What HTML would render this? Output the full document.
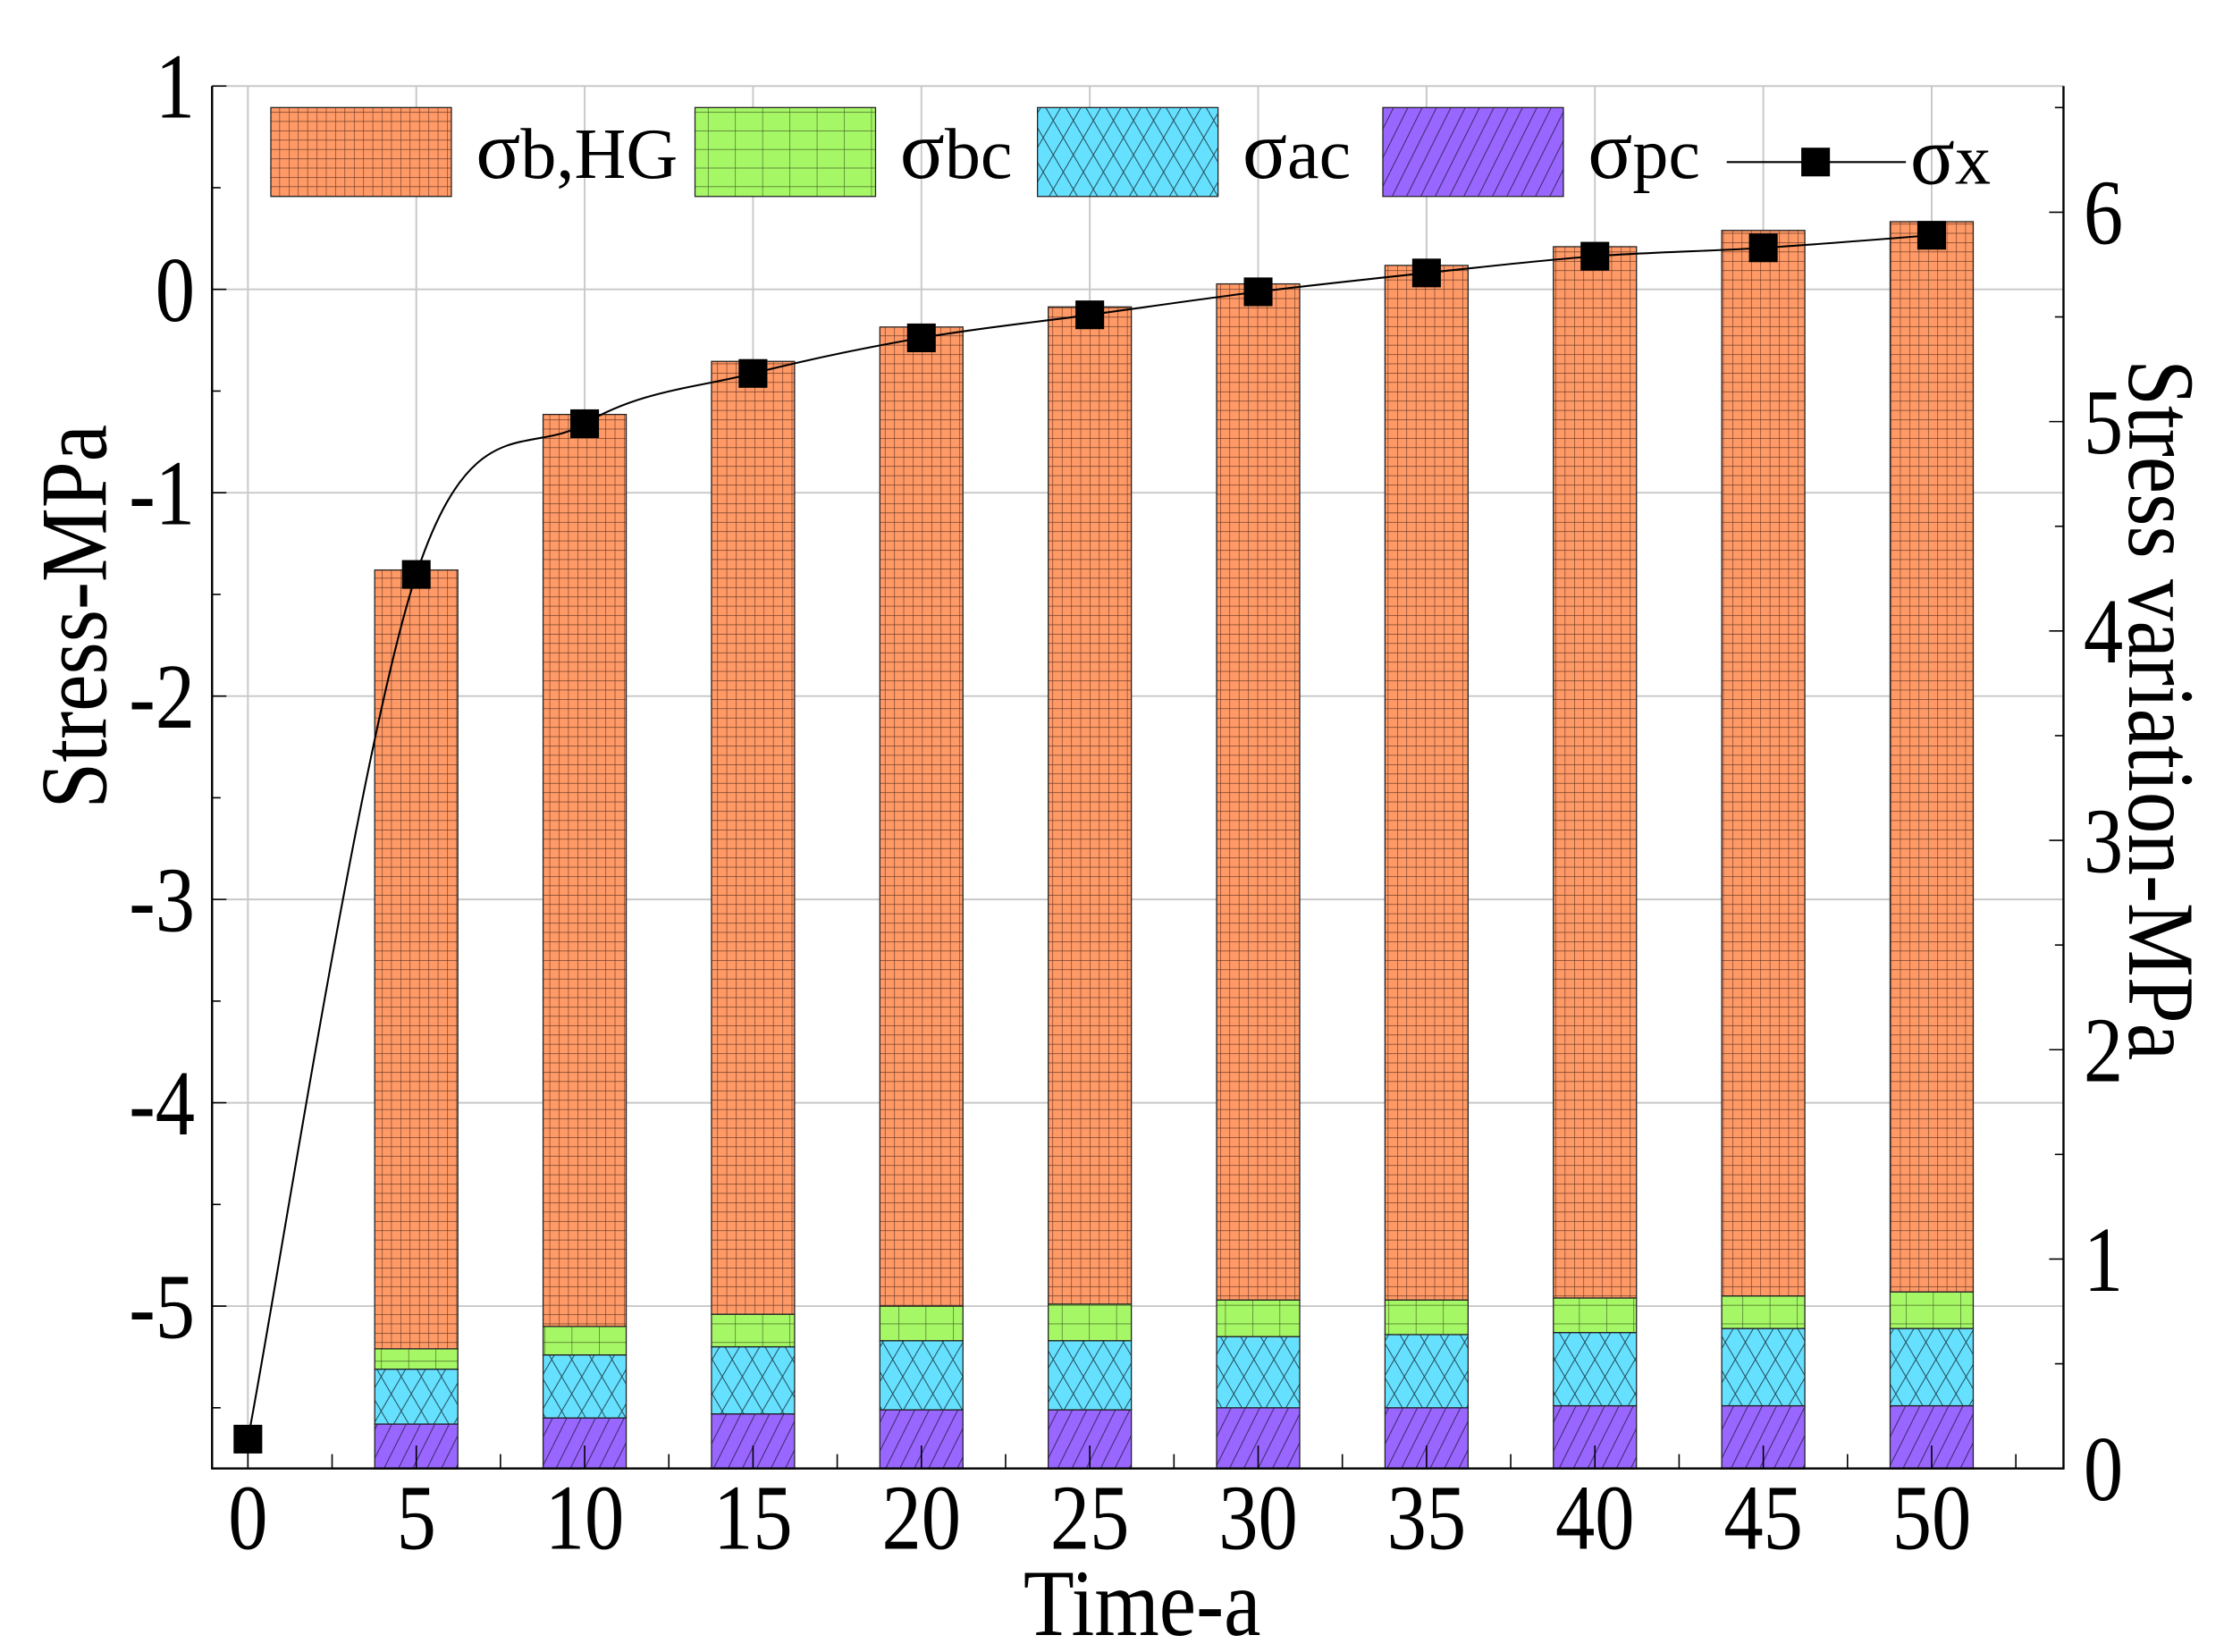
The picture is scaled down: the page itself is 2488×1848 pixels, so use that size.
<!DOCTYPE html>
<html><head><meta charset="utf-8"><style>html,body{margin:0;padding:0;background:#fff}svg{display:block}</style></head>
<body>
<svg id="chart" width="2488" height="1848" viewBox="0 0 1552 1152" preserveAspectRatio="none" xmlns="http://www.w3.org/2000/svg" font-family="'Liberation Serif', serif">
<defs>
<pattern id="pOr" patternUnits="userSpaceOnUse" width="6.5" height="6.5"><rect width="6.5" height="6.5" fill="#FF9966"/><path d="M0 0H6.5M0 0V6.5" stroke="#5a3020" stroke-width="0.7"/></pattern>
<pattern id="pGr" patternUnits="userSpaceOnUse" width="19" height="13"><rect width="19" height="13" fill="#A6F765"/><path d="M0 0H19M0 0V13" stroke="#355020" stroke-width="0.7"/></pattern>
<pattern id="pCy" patternUnits="userSpaceOnUse" width="14" height="24"><rect width="14" height="24" fill="#66E0FF"/><path d="M0 0L14 24M14 0L0 24" stroke="#204a55" stroke-width="0.6"/></pattern>
<pattern id="pPu" patternUnits="userSpaceOnUse" width="10" height="20"><rect width="10" height="20" fill="#9966FF"/><path d="M0 20L10 0M-5 10L0 0M10 20L15 10" stroke="#3a2660" stroke-width="0.6"/></pattern>
</defs>
<g id="grid"></g>
<g id="bars"></g>
<g id="line"></g>
<g id="axes"></g>
<g id="legend"></g>
</svg>
<script>
const times = [5,10,15,20,25,30,35,40,45,50];
const pc = [0.22,0.25,0.27,0.29,0.29,0.30,0.30,0.31,0.31,0.31];
const ac = [0.27,0.31,0.33,0.34,0.34,0.35,0.36,0.36,0.38,0.38];
const bc = [0.10,0.14,0.16,0.17,0.18,0.18,0.17,0.17,0.16,0.18];
const bHG = [3.83,4.485,4.686,4.815,4.904,4.997,5.088,5.17,5.24,5.263];
const lineT = [0,5,10,15,20,25,30,35,40,45,50];
const sx = [0.14,4.27,4.99,5.23,5.40,5.51,5.62,5.71,5.79,5.83,5.89];
const xTicks = [0,5,10,15,20,25,30,35,40,45,50];
const yTicks = [1,0,-1,-2,-3,-4,-5];
const y2Ticks = [0,1,2,3,4,5,6];

const L=148,R=1440,T=60,B=1024;
const X=t=>173+(t)*(1348-173)/50;
const Y=v=>60+(1-v)*141.8;
const Y2=v=>1024-v*146;
const NS='http://www.w3.org/2000/svg';
function mk(tag,attrs,parent){const e=document.createElementNS(NS,tag);for(const k in attrs)e.setAttribute(k,attrs[k]);parent.appendChild(e);return e;}
const grid=document.getElementById('grid'),bars=document.getElementById('bars'),lineG=document.getElementById('line'),axes=document.getElementById('axes'),leg=document.getElementById('legend');

xTicks.forEach(t=>{const g=mk('line',{x1:X(t),x2:X(t),y1:T,y2:B,stroke:'#c8c8c8','stroke-width':1.2},grid);

});
yTicks.forEach(v=>{const g=mk('line',{x1:L,x2:R,y1:Y(v),y2:Y(v),stroke:'#c8c8c8','stroke-width':1.2},grid);

});

const base=-5.8;
times.forEach((t,i)=>{
  const segs=[[pc[i],'pPu','bar-pc'],[ac[i],'pCy','bar-ac'],[bc[i],'pGr','bar-bc'],[bHG[i],'pOr','bar-bhg']];
  let cum=base;
  segs.forEach(s=>{
    const y0=Y(cum),y1=Y(cum+s[0]);
    const r=mk('rect',{x:X(t)-29,y:y1,width:58,height:y0-y1,fill:'url(#'+s[1]+')',stroke:'#222','stroke-width':0.8},bars);
    
    
    cum+=s[0];
  });
});

const pts=lineT.map((t,i)=>[X(t),Y2(sx[i])]);
let d='M'+pts[0][0]+' '+pts[0][1];
for(let i=0;i<pts.length-1;i++){
  const p0=pts[i-1]||pts[i],p1=pts[i],p2=pts[i+1],p3=pts[i+2]||p2;
  const c1=[p1[0]+(p2[0]-p0[0])/6,p1[1]+(p2[1]-p0[1])/6];
  const c2=[p2[0]-(p3[0]-p1[0])/6,p2[1]-(p3[1]-p1[1])/6];
  d+=` C${c1[0]} ${c1[1]} ${c2[0]} ${c2[1]} ${p2[0]} ${p2[1]}`;
}
const pl=mk('path',{d:d,fill:'none',stroke:'#000','stroke-width':1.3},lineG);


pts.forEach((p,i)=>{const m=mk('rect',{x:p[0]-10,y:p[1]-10,width:20,height:20,fill:'#000'},lineG);

});

const ax=mk('path',{d:`M${L} ${T}V${B}H${R}V${T}`,fill:'none',stroke:'#000','stroke-width':1.5},axes);


for(let v=1;v>=-5.8;v-=0.5){const tk=mk('line',{x1:L,x2:L+(Math.abs(v%1)<0.01?10:6),y1:Y(v),y2:Y(v),stroke:'#000','stroke-width':1},axes);

}
for(let v=0;v<=6.5;v+=0.5){const tk=mk('line',{x1:R,x2:R-(v%1===0?10:6),y1:Y2(v),y2:Y2(v),stroke:'#000','stroke-width':1},axes);

}
for(let t=0;t<=52.5;t+=2.5){const tk=mk('line',{x1:X(t),x2:X(t),y1:B,y2:B-(t%5===0?16:10),stroke:'#000','stroke-width':1},axes);

}
xTicks.forEach(t=>{const e=mk('text',{x:0,y:0,'font-size':65,'text-anchor':'middle',transform:`translate(${X(t)} 1080) scale(0.85 1)`},axes);e.textContent=t;

});
yTicks.forEach(v=>{const e=mk('text',{x:0,y:0,'font-size':65,'text-anchor':'end',transform:`translate(136 ${Y(v)+22}) scale(0.85 1)`},axes);e.textContent=v;

});
y2Ticks.forEach(v=>{const e=mk('text',{x:0,y:0,'font-size':65,'text-anchor':'start',transform:`translate(1454 ${Y2(v)+22}) scale(0.85 1)`},axes);e.textContent=v;

});
let e=mk('text',{x:0,y:0,'font-size':66,'text-anchor':'middle',transform:'translate(797 1140) scale(0.88 1)'},axes);e.textContent='Time-a';


e=mk('text',{x:0,y:0,'font-size':66,'text-anchor':'middle',transform:'translate(74 430) rotate(-90) scale(0.88 1)'},axes);e.textContent='Stress-MPa';


e=mk('text',{x:0,y:0,'font-size':66,'text-anchor':'middle',transform:'translate(1486 495) rotate(90) scale(0.88 1)'},axes);e.textContent='Stress variation-MPa';



const legItems=[[189,'pOr','b,HG','legend-bhg'],[485,'pGr','bc','legend-bc'],[724,'pCy','ac','legend-ac'],[965,'pPu','pc','legend-pc']];
legItems.forEach(it=>{
  const r=mk('rect',{x:it[0],y:75,width:126,height:62,fill:'url(#'+it[1]+')',stroke:'#222','stroke-width':0.8},leg);
  
  
  const t=mk('text',{x:it[0]+143,y:124,'font-size':50},leg);
  
  
  t.innerHTML='<tspan font-size="58">σ</tspan>'+it[2];
});
const ll=mk('line',{x1:1205,x2:1330,y1:113,y2:113,stroke:'#000','stroke-width':1.3},leg);


const lm=mk('rect',{x:1257,y:103,width:20,height:20,fill:'#000'},leg);


const lt=mk('text',{x:1333,y:128,'font-size':50},leg);


lt.innerHTML='<tspan font-size="58">σ</tspan>x';
</script>
</body></html>
